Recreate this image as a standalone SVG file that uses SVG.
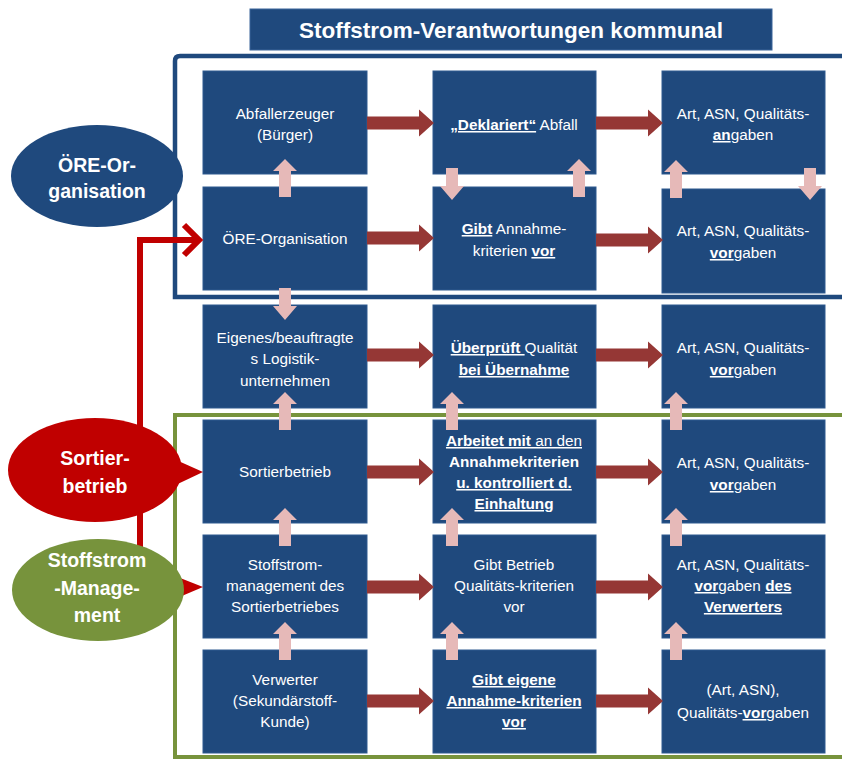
<svg xmlns="http://www.w3.org/2000/svg" width="842" height="762" viewBox="0 0 842 762">
<defs>
<style>
.box{fill:#1F497D;stroke:#2E5A90;stroke-width:1}
.t{font-family:"Liberation Sans",Arial,sans-serif;font-size:15.3px;fill:#fff;text-anchor:middle}
.e{font-family:"Liberation Sans",Arial,sans-serif;font-size:19.5px;font-weight:bold;fill:#fff;text-anchor:middle}
.b{font-weight:bold}
.u{text-decoration:underline}
.ra{fill:#953735}
.pa{fill:#E6B9B8}
</style>
<path id="rarr" d="M0,-6.5 H52 V-13.5 L67,0 L52,13.5 V6.5 H0 Z"/>
<path id="up" d="M-6,0 V-26 H-12 L0,-38 L12,-26 H6 V0 Z"/>
<path id="down" d="M-6,0 V18 H-12 L0,32 L12,18 H6 V0 Z"/>
</defs>
<rect width="842" height="762" fill="#fff"/>

<g id="title">
<rect x="250" y="9" width="522" height="41" fill="#1F497D" stroke="#3A659A" stroke-width="1"/>
<text x="511" y="38" font-family="Liberation Sans,Arial,sans-serif" font-size="22.5" font-weight="bold" fill="#fff" text-anchor="middle">Stoffstrom-Verantwortungen kommunal</text>
</g>

<g id="frames">
<path d="M846,56 H180 Q175,56 175,61 V297 H846" fill="none" stroke="#1F497D" stroke-width="4.5"/>
<path d="M846,415 H175 V757 H846" fill="none" stroke="#77933C" stroke-width="4"/>
</g>

<g id="boxes">
<g id="n11"><rect class="box" x="203" y="71" width="164" height="103"/>
<text class="t" x="285" y="119">Abfallerzeuger</text><text class="t" x="285" y="140">(Bürger)</text></g>
<g id="n12"><rect class="box" x="433" y="71" width="163" height="103"/>
<text class="t" x="514" y="130"><tspan class="b u">„Deklariert“</tspan> Abfall</text></g>
<g id="n13"><rect class="box" x="662" y="71" width="163" height="103"/>
<text class="t" x="743" y="119">Art, ASN, Qualitäts-</text><text class="t" x="743" y="140"><tspan class="b u">an</tspan>gaben</text></g>

<g id="n21"><rect class="box" x="203" y="187" width="164" height="103"/>
<text class="t" x="285" y="244">ÖRE-Organisation</text></g>
<g id="n22"><rect class="box" x="433" y="187" width="163" height="103"/>
<text class="t" x="514" y="234"><tspan class="b u">Gibt</tspan> Annahme-</text><text class="t" x="514" y="256">kriterien <tspan class="b u">vor</tspan></text></g>
<g id="n23"><rect class="box" x="662" y="189" width="163" height="104"/>
<text class="t" x="743" y="236">Art, ASN, Qualitäts-</text><text class="t" x="743" y="258"><tspan class="b u">vor</tspan>gaben</text></g>

<g id="n31"><rect class="box" x="203" y="305" width="164" height="103"/>
<text class="t" x="285" y="343">Eigenes/beauftragte</text><text class="t" x="285" y="364">s Logistik-</text><text class="t" x="285" y="386">unternehmen</text></g>
<g id="n32"><rect class="box" x="433" y="305" width="163" height="103"/>
<text class="t" x="514" y="353"><tspan class="b u">Überprüft </tspan>Qualität</text><text class="t" x="514" y="375"><tspan class="b u">bei Übernahme</tspan></text></g>
<g id="n33"><rect class="box" x="662" y="305" width="163" height="103"/>
<text class="t" x="743" y="353">Art, ASN, Qualitäts-</text><text class="t" x="743" y="375"><tspan class="b u">vor</tspan>gaben</text></g>

<g id="n41"><rect class="box" x="203" y="420" width="164" height="103"/>
<text class="t" x="285" y="477">Sortierbetrieb</text></g>
<g id="n42"><rect class="box" x="433" y="420" width="163" height="103"/>
<text class="t" x="514" y="446"><tspan class="u"><tspan class="b">Arbeitet mit</tspan> an den</tspan></text>
<text class="t b" x="514" y="467">Annahmekriterien</text>
<text class="t" x="514" y="488"><tspan class="b u">u. kontrolliert d.</tspan></text>
<text class="t" x="514" y="509"><tspan class="b u">Einhaltung</tspan></text></g>
<g id="n43"><rect class="box" x="662" y="420" width="163" height="103"/>
<text class="t" x="743" y="468">Art, ASN, Qualitäts-</text><text class="t" x="743" y="490"><tspan class="b u">vor</tspan>gaben</text></g>

<g id="n51"><rect class="box" x="203" y="535" width="164" height="103"/>
<text class="t" x="285" y="570">Stoffstrom-</text><text class="t" x="285" y="591">management des</text><text class="t" x="285" y="612">Sortierbetriebes</text></g>
<g id="n52"><rect class="box" x="433" y="535" width="163" height="103"/>
<text class="t" x="514" y="570">Gibt Betrieb</text><text class="t" x="514" y="591">Qualitäts-kriterien</text><text class="t" x="514" y="612">vor</text></g>
<g id="n53"><rect class="box" x="662" y="535" width="163" height="103"/>
<text class="t" x="743" y="570">Art, ASN, Qualitäts-</text><text class="t" x="743" y="591"><tspan class="b u">vor</tspan>gaben <tspan class="b u">des</tspan></text><text class="t" x="743" y="612"><tspan class="b u">Verwerters</tspan></text></g>

<g id="n61"><rect class="box" x="203" y="650" width="164" height="103"/>
<text class="t" x="285" y="685">Verwerter</text><text class="t" x="285" y="706">(Sekundärstoff-</text><text class="t" x="285" y="727">Kunde)</text></g>
<g id="n62"><rect class="box" x="433" y="650" width="163" height="103"/>
<text class="t" x="514" y="685"><tspan class="b u">Gibt eigene</tspan></text><text class="t" x="514" y="706"><tspan class="b u">Annahme-kriterien</tspan></text><text class="t" x="514" y="727"><tspan class="b u">vor</tspan></text></g>
<g id="n63"><rect class="box" x="662" y="650" width="163" height="103"/>
<text class="t" x="743" y="695">(Art, ASN),</text><text class="t" x="743" y="718">Qualitäts-<tspan class="b u">vor</tspan>gaben</text></g>
</g>

<g id="connectors">
<use href="#rarr" class="ra" x="367" y="123"/><use href="#rarr" class="ra" x="596" y="123"/>
<use href="#rarr" class="ra" x="367" y="238"/><use href="#rarr" class="ra" x="596" y="240"/>
<use href="#rarr" class="ra" x="367" y="355"/><use href="#rarr" class="ra" x="596" y="355"/>
<use href="#rarr" class="ra" x="367" y="472"/><use href="#rarr" class="ra" x="596" y="472"/>
<use href="#rarr" class="ra" x="367" y="587"/><use href="#rarr" class="ra" x="596" y="587"/>
<use href="#rarr" class="ra" x="367" y="701"/><use href="#rarr" class="ra" x="596" y="701"/>

<use href="#up" class="pa" x="285" y="197"/>
<use href="#down" class="pa" x="452" y="168"/>
<use href="#up" class="pa" x="579" y="197"/>
<use href="#up" class="pa" x="676" y="198"/>
<use href="#down" class="pa" x="810" y="168"/>
<use href="#down" class="pa" x="285" y="288"/>

<use href="#up" class="pa" x="285" y="430"/>
<use href="#up" class="pa" x="452" y="430"/>
<use href="#up" class="pa" x="676" y="430"/>
<use href="#up" class="pa" x="285" y="546"/>
<use href="#up" class="pa" x="452" y="546"/>
<use href="#up" class="pa" x="676" y="546"/>
<use href="#up" class="pa" x="285" y="660"/>
<use href="#up" class="pa" x="452" y="660"/>
<use href="#up" class="pa" x="676" y="660"/>

<path d="M140,560 V240 H198" fill="none" stroke="#C00000" stroke-width="6"/>
<path d="M184,225 L199,240 L184,255" fill="none" stroke="#C00000" stroke-width="6"/>
<path d="M170,574 L203,587 L170,601 Z" fill="#C00000"/>
</g>

<g id="ore">
<ellipse cx="97" cy="176" rx="86" ry="51" fill="#1F497D"/>
<text class="e" x="97" y="172">ÖRE-Or-</text><text class="e" x="97" y="198">ganisation</text>
</g>
<g id="sortier">
<path d="M165,455 L203,472 L165,490 Z" fill="#C00000"/>
<ellipse cx="95" cy="470" rx="87" ry="52" fill="#C00000"/>
<text class="e" x="95" y="465">Sortier-</text><text class="e" x="95" y="493">betrieb</text>
</g>
<g id="stoffstrom">
<ellipse cx="98" cy="590" rx="86" ry="51" fill="#77933C"/>
<text class="e" x="97" y="567">Stoffstrom</text><text class="e" x="97" y="595">-Manage-</text><text class="e" x="97" y="622">ment</text>
</g>
</svg>
